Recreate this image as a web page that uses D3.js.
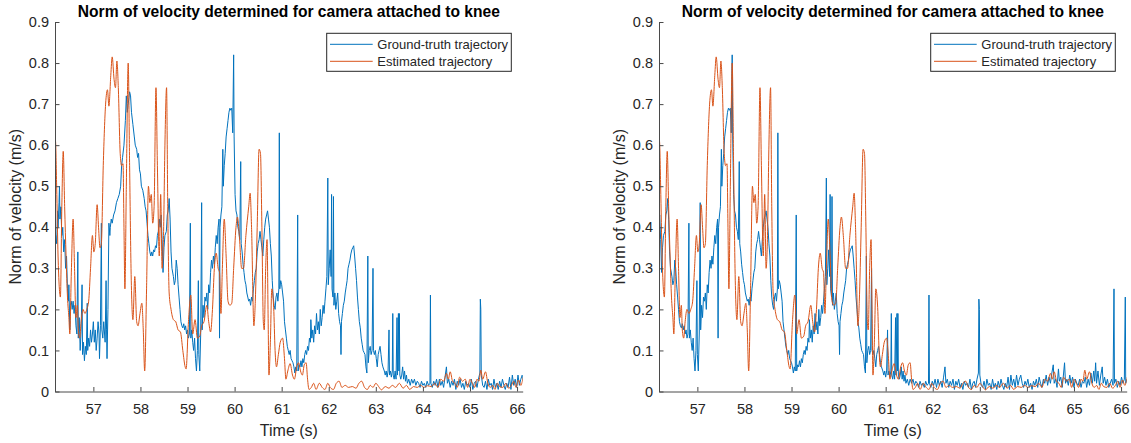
<!DOCTYPE html>
<html>
<head>
<meta charset="utf-8">
<script src="https://cdn.jsdelivr.net/npm/d3@7"></script>
<style>
  html, body { margin: 0; padding: 0; background: #ffffff; }
  svg { display: block; font-family: "Liberation Sans", Arial, Helvetica, sans-serif; }
</style>
</head>
<body>
<svg id="chart" width="1131" height="443"></svg>
<script>
// ---------------- DATA ----------------
const chartTitle = "Norm of velocity determined for camera attached to knee";
const xLabel = "Time (s)";
const yLabel = "Norm of velocity (m/s)";
const seriesNames = ["Ground-truth trajectory", "Estimated trajectory"];
const xTicks = [57, 58, 59, 60, 61, 62, 63, 64, 65, 66];
const yTicks = [0, 0.1, 0.2, 0.3, 0.4, 0.5, 0.6, 0.7, 0.8, 0.9];
const xDomain = [56.185, 66.12];
const yDomain = [0, 0.9];
// time offset of the ground-truth trajectory in each panel (left: raw, right: aligned)
const gtTimeShift = [0, 2.24];

// ground-truth trajectory [time (s), velocity (m/s)]
const groundTruth = [
[56.18,0.34],[56.20,0.38],[56.22,0.36],[56.24,0.44],[56.25,0.40],[56.27,0.46],[56.28,0.50],[56.29,0.42],
[56.31,0.45],[56.33,0.38],[56.35,0.40],[56.37,0.34],[56.39,0.37],[56.41,0.30],[56.43,0.33],[56.45,0.25],
[56.47,0.22],[56.48,0.26],[56.50,0.15],[56.51,0.21],[56.53,0.22],[56.55,0.20],[56.57,0.22],[56.59,0.19],
[56.61,0.21],[56.63,0.16],[56.65,0.14],[56.67,0.34],[56.68,0.13],[56.70,0.18],[56.72,0.10],[56.74,0.15],
[56.76,0.26],[56.77,0.09],[56.79,0.12],[56.81,0.075],[56.83,0.11],[56.85,0.09],[56.87,0.215],[56.88,0.10],
[56.90,0.13],[56.92,0.11],[56.94,0.15],[56.96,0.12],[56.98,0.14],[57.00,0.17],[57.02,0.12],[57.04,0.15],
[57.06,0.10],[57.08,0.13],[57.10,0.17],[57.12,0.14],[57.13,0.08],[57.15,0.16],[57.17,0.41],[57.18,0.15],
[57.20,0.13],[57.22,0.17],[57.25,0.12],[57.27,0.27],[57.28,0.15],[57.29,0.08],[57.31,0.20],[57.33,0.41],
[57.35,0.38],[57.36,0.40],[57.38,0.42],[57.40,0.41],[57.43,0.43],[57.46,0.44],[57.49,0.46],[57.52,0.47],
[57.55,0.48],[57.58,0.50],[57.60,0.55],[57.62,0.57],[57.65,0.60],[57.68,0.66],[57.70,0.72],[57.72,0.68],
[57.74,0.70],[57.77,0.73],[57.79,0.72],[57.81,0.68],[57.84,0.65],[57.87,0.62],[57.89,0.60],[57.92,0.59],
[57.94,0.57],[57.96,0.58],[57.98,0.54],[58.00,0.53],[58.02,0.50],[58.05,0.49],[58.08,0.47],[58.10,0.45],
[58.12,0.44],[58.14,0.41],[58.16,0.38],[58.18,0.36],[58.20,0.34],[58.22,0.33],[58.24,0.34],[58.26,0.33],
[58.28,0.345],[58.30,0.34],[58.32,0.355],[58.34,0.35],[58.36,0.38],[58.38,0.39],[58.40,0.42],[58.42,0.40],
[58.44,0.43],[58.46,0.37],[58.48,0.29],[58.50,0.35],[58.52,0.38],[58.55,0.39],[58.57,0.43],[58.59,0.44],
[58.61,0.47],[58.63,0.42],[58.65,0.34],[58.67,0.30],[58.70,0.28],[58.72,0.26],[58.74,0.27],[58.76,0.32],
[58.78,0.30],[58.80,0.26],[58.82,0.23],[58.84,0.20],[58.86,0.17],[58.88,0.16],[58.90,0.155],[58.92,0.165],
[58.94,0.15],[58.96,0.16],[58.98,0.14],[59.00,0.15],[59.02,0.13],[59.04,0.14],[59.06,0.41],[59.07,0.13],
[59.09,0.15],[59.11,0.12],[59.13,0.10],[59.15,0.13],[59.17,0.08],[59.19,0.05],[59.21,0.10],[59.23,0.27],
[59.24,0.09],[59.26,0.05],[59.28,0.14],[59.30,0.46],[59.31,0.15],[59.33,0.21],[59.35,0.18],[59.37,0.23],
[59.39,0.22],[59.41,0.24],[59.43,0.20],[59.45,0.26],[59.47,0.24],[59.49,0.29],[59.51,0.32],[59.53,0.30],
[59.55,0.33],[59.57,0.31],[59.59,0.35],[59.61,0.38],[59.63,0.36],[59.65,0.40],[59.67,0.42],[59.68,0.13],
[59.69,0.40],[59.71,0.43],[59.73,0.45],[59.75,0.59],[59.76,0.50],[59.78,0.55],[59.80,0.58],[59.82,0.62],
[59.84,0.64],[59.86,0.66],[59.88,0.68],[59.90,0.69],[59.92,0.685],[59.94,0.69],[59.96,0.63],[59.98,0.82],
[59.99,0.62],[60.01,0.48],[60.03,0.44],[60.05,0.43],[60.07,0.40],[60.09,0.39],[60.11,0.37],[60.13,0.56],
[60.14,0.36],[60.16,0.34],[60.18,0.31],[60.20,0.29],[60.22,0.27],[60.24,0.26],[60.26,0.24],[60.28,0.23],
[60.30,0.22],[60.32,0.225],[60.34,0.21],[60.36,0.23],[60.38,0.22],[60.40,0.25],[60.42,0.27],[60.44,0.29],
[60.46,0.30],[60.48,0.34],[60.50,0.36],[60.52,0.37],[60.54,0.39],[60.56,0.37],[60.58,0.35],[60.60,0.33],
[60.62,0.37],[60.64,0.40],[60.66,0.42],[60.68,0.43],[60.70,0.44],[60.72,0.42],[60.74,0.40],[60.76,0.36],
[60.78,0.33],[60.80,0.27],[60.82,0.23],[60.84,0.21],[60.86,0.20],[60.88,0.23],[60.90,0.24],[60.92,0.22],
[60.94,0.25],[60.95,0.63],[60.96,0.25],[60.98,0.27],[61.00,0.26],[61.02,0.24],[61.04,0.22],[61.06,0.17],
[61.08,0.15],[61.10,0.13],[61.12,0.11],[61.14,0.10],[61.16,0.09],[61.18,0.10],[61.20,0.08],[61.22,0.075],
[61.24,0.07],[61.26,0.06],[61.28,0.045],[61.30,0.06],[61.32,0.05],[61.34,0.43],[61.35,0.05],[61.37,0.065],
[61.39,0.06],[61.41,0.075],[61.43,0.06],[61.45,0.08],[61.47,0.07],[61.49,0.09],[61.51,0.10],[61.53,0.09],
[61.55,0.11],[61.57,0.10],[61.59,0.13],[61.61,0.12],[61.62,0.175],[61.64,0.13],[61.66,0.15],[61.68,0.12],
[61.70,0.16],[61.72,0.14],[61.74,0.19],[61.76,0.15],[61.78,0.17],[61.80,0.14],[61.82,0.20],[61.84,0.16],
[61.86,0.18],[61.88,0.21],[61.90,0.19],[61.92,0.22],[61.94,0.25],[61.96,0.28],[61.98,0.52],[61.99,0.26],
[62.01,0.30],[62.03,0.345],[62.05,0.28],[62.06,0.48],[62.07,0.25],[62.09,0.23],[62.10,0.475],[62.11,0.21],
[62.13,0.24],[62.15,0.20],[62.17,0.22],[62.19,0.24],[62.21,0.19],[62.23,0.17],[62.25,0.16],[62.26,0.09],
[62.27,0.17],[62.29,0.19],[62.31,0.21],[62.33,0.22],[62.35,0.24],[62.37,0.255],[62.39,0.27],[62.41,0.30],
[62.43,0.31],[62.45,0.32],[62.47,0.335],[62.49,0.345],[62.51,0.35],[62.53,0.355],[62.55,0.33],[62.57,0.30],
[62.59,0.27],[62.61,0.23],[62.63,0.20],[62.65,0.17],[62.67,0.155],[62.69,0.13],[62.71,0.115],[62.73,0.10],
[62.75,0.095],[62.77,0.09],[62.79,0.06],[62.81,0.045],[62.83,0.33],[62.84,0.07],[62.86,0.10],[62.88,0.11],
[62.90,0.09],[62.92,0.10],[62.94,0.30],[62.95,0.10],[62.97,0.09],[62.99,0.10],[63.01,0.08],[63.03,0.06],
[63.05,0.09],[63.07,0.10],[63.09,0.11],[63.11,0.09],[63.13,0.07],[63.15,0.06],[63.18,0.05],[63.20,0.04],
[63.22,0.05],[63.24,0.035],[63.26,0.05],[63.28,0.15],[63.29,0.04],[63.31,0.05],[63.33,0.035],[63.35,0.05],
[63.36,0.19],[63.37,0.04],[63.39,0.03],[63.41,0.05],[63.43,0.03],[63.45,0.18],[63.46,0.04],[63.48,0.19],
[63.49,0.05],[63.50,0.19],[63.51,0.04],[63.53,0.03],[63.55,0.04],[63.57,0.06],[63.59,0.03],[63.61,0.05],
[63.63,0.025],[63.65,0.04],[63.67,0.02],[63.70,0.03],[63.73,0.015],[63.76,0.03],[63.79,0.02],[63.82,0.03],
[63.85,0.015],[63.88,0.025],[63.91,0.02],[63.94,0.01],[63.97,0.025],[64.00,0.015],[64.03,0.02],[64.06,0.01],
[64.09,0.025],[64.12,0.015],[64.15,0.02],[64.16,0.235],[64.17,0.02],[64.20,0.01],[64.23,0.025],[64.26,0.015],
[64.29,0.03],[64.32,0.01],[64.35,0.03],[64.38,0.015],[64.41,0.025],[64.44,0.01],[64.47,0.035],[64.50,0.06],
[64.52,0.02],[64.55,0.03],[64.58,0.01],[64.61,0.025],[64.64,0.015],[64.67,0.03],[64.70,0.005],[64.73,0.025],
[64.76,0.015],[64.79,0.03],[64.82,0.01],[64.85,0.02],[64.88,0.005],[64.91,0.025],[64.94,0.015],[64.97,0.02],
[65.00,0.01],[65.03,0.03],[65.06,0.005],[65.09,0.02],[65.12,0.025],[65.15,0.01],[65.18,0.03],[65.21,0.045],
[65.22,0.225],[65.23,0.20],[65.24,0.04],[65.27,0.015],[65.30,0.01],[65.33,0.025],[65.36,0.005],[65.39,0.03],
[65.42,0.015],[65.45,0.02],[65.48,0.005],[65.51,0.03],[65.54,0.01],[65.57,0.02],[65.60,0.005],[65.63,0.025],
[65.66,0.01],[65.69,0.03],[65.72,0.015],[65.75,0.005],[65.78,0.02],[65.81,0.01],[65.84,0.035],[65.87,0.005],
[65.90,0.04],[65.93,0.015],[65.96,0.03],[65.99,0.01],[66.02,0.04],[66.05,0.015],[66.08,0.03],[66.11,0.04],
[66.14,0.02],[66.17,0.01],[66.20,0.025],[66.23,0.015],[66.26,0.03],[66.29,0.01],[66.32,0.02],[66.35,0.005],
[66.38,0.025],[66.41,0.015],[66.44,0.03],[66.47,0.01],[66.50,0.035],[66.53,0.02],[66.56,0.01],[66.59,0.03],
[66.62,0.02],[66.65,0.04],[66.68,0.015],[66.71,0.035],[66.74,0.02],[66.77,0.045],[66.80,0.065],[66.82,0.02],
[66.85,0.03],[66.88,0.01],[66.91,0.055],[66.93,0.025],[66.96,0.035],[66.99,0.01],[67.02,0.045],[67.04,0.07],
[67.06,0.02],[67.09,0.03],[67.12,0.015],[67.15,0.04],[67.18,0.02],[67.21,0.035],[67.24,0.01],[67.27,0.03],
[67.30,0.02],[67.33,0.015],[67.36,0.03],[67.39,0.01],[67.42,0.025],[67.45,0.02],[67.48,0.035],[67.51,0.01],
[67.54,0.03],[67.57,0.015],[67.60,0.045],[67.63,0.02],[67.66,0.05],[67.68,0.025],[67.70,0.07],[67.72,0.02],
[67.75,0.05],[67.78,0.015],[67.81,0.04],[67.84,0.06],[67.86,0.02],[67.89,0.035],[67.92,0.015],[67.95,0.03],
[67.98,0.01],[68.01,0.02],[68.04,0.03],[68.07,0.015],[68.09,0.25],[68.10,0.02],[68.13,0.03],[68.16,0.01],
[68.19,0.025],[68.22,0.015],[68.25,0.035],[68.28,0.02],[68.31,0.03],[68.33,0.23],[68.34,0.02],[68.37,0.03],
[68.40,0.01]
];

// estimated trajectory [time (s), velocity (m/s)]
const estimated = [
[56.18,0.575],[56.195,0.61],[56.22,0.50],[56.25,0.33],[56.30,0.23],[56.33,0.45],[56.36,0.585],[56.39,0.45],
[56.42,0.33],[56.45,0.23],[56.48,0.18],[56.50,0.14],[56.53,0.28],[56.57,0.42],[56.60,0.30],[56.63,0.18],
[56.66,0.21],[56.68,0.15],[56.71,0.13],[56.74,0.17],[56.78,0.20],[56.82,0.19],[56.86,0.20],[56.90,0.22],
[56.94,0.30],[56.98,0.38],[57.01,0.34],[57.04,0.36],[57.08,0.455],[57.11,0.40],[57.14,0.35],[57.17,0.36],
[57.21,0.55],[57.26,0.70],[57.30,0.735],[57.33,0.695],[57.37,0.77],[57.40,0.815],[57.44,0.76],[57.47,0.74],
[57.50,0.805],[57.53,0.74],[57.57,0.58],[57.60,0.55],[57.63,0.555],[57.65,0.40],[57.67,0.25],[57.70,0.50],
[57.74,0.80],[57.77,0.55],[57.80,0.30],[57.84,0.175],[57.88,0.28],[57.92,0.17],[57.95,0.16],[57.99,0.19],
[58.03,0.215],[58.06,0.15],[58.09,0.05],[58.13,0.25],[58.17,0.50],[58.20,0.46],[58.23,0.48],[58.26,0.41],
[58.29,0.45],[58.33,0.74],[58.36,0.55],[58.40,0.33],[58.43,0.48],[58.46,0.30],[58.49,0.38],[58.52,0.60],
[58.555,0.74],[58.58,0.45],[58.61,0.24],[58.65,0.20],[58.70,0.175],[58.75,0.17],[58.80,0.15],[58.85,0.145],
[58.90,0.10],[58.95,0.06],[58.97,0.055],[59.02,0.17],[59.07,0.235],[59.11,0.14],[59.16,0.175],[59.21,0.13],
[59.26,0.135],[59.30,0.16],[59.35,0.17],[59.41,0.21],[59.45,0.17],[59.49,0.145],[59.53,0.20],[59.57,0.30],
[59.61,0.337],[59.65,0.30],[59.68,0.29],[59.71,0.19],[59.74,0.30],[59.78,0.42],[59.82,0.33],[59.86,0.22],
[59.90,0.21],[59.94,0.215],[59.98,0.30],[60.03,0.40],[60.06,0.425],[60.10,0.38],[60.15,0.30],[60.19,0.30],
[60.24,0.38],[60.30,0.45],[60.33,0.483],[60.36,0.40],[60.41,0.16],[60.44,0.22],[60.48,0.40],[60.52,0.59],
[60.55,0.58],[60.58,0.40],[60.61,0.17],[60.63,0.15],[60.66,0.30],[60.69,0.37],[60.71,0.20],[60.73,0.04],
[60.76,0.12],[60.79,0.25],[60.83,0.205],[60.86,0.10],[60.89,0.06],[60.93,0.09],[60.97,0.12],[61.02,0.13],
[61.06,0.08],[61.09,0.03],[61.13,0.05],[61.18,0.068],[61.23,0.04],[61.27,0.03],[61.32,0.06],[61.36,0.07],
[61.40,0.05],[61.44,0.04],[61.48,0.065],[61.52,0.07],[61.55,0.03],[61.58,0.005],[61.63,0.01],[61.68,0.02],
[61.73,0.005],[61.80,0.02],[61.86,0.01],[61.92,0.005],[61.98,0.02],[62.03,0.01],[62.10,0.005],[62.16,0.02],
[62.22,0.025],[62.28,0.01],[62.35,0.015],[62.42,0.01],[62.50,0.012],[62.58,0.008],[62.64,0.02],[62.70,0.025],
[62.76,0.01],[62.82,0.005],[62.88,0.015],[62.94,0.01],[63.00,0.02],[63.06,0.012],[63.12,0.004],[63.20,0.012],
[63.28,0.008],[63.35,0.015],[63.42,0.01],[63.50,0.02],[63.58,0.008],[63.65,0.015],[63.72,0.005],[63.80,0.012],
[63.88,0.01],[63.95,0.015],[64.02,0.01],[64.10,0.014],[64.18,0.012],[64.25,0.02],[64.32,0.01],[64.38,0.03],
[64.44,0.025],[64.50,0.044],[64.54,0.03],[64.58,0.048],[64.63,0.025],[64.68,0.02],[64.73,0.01],[64.78,0.035],
[64.84,0.025],[64.90,0.03],[64.95,0.01],[65.00,0.03],[65.05,0.02],[65.10,0.01],[65.15,0.03],[65.19,0.025],
[65.23,0.052],[65.27,0.03],[65.33,0.048],[65.38,0.02],[65.43,0.01],[65.48,0.015],[65.53,0.005],[65.58,0.02],
[65.63,0.012],[65.70,0.01],[65.76,0.02],[65.82,0.008],[65.88,0.015],[65.93,0.025],[65.98,0.01],[66.03,0.028],
[66.08,0.015],[66.13,0.035]
];

const colors = ["#0072BD", "#D95319"];

// ---------------- DRAW ----------------
const svg = d3.select("#chart");
const plotW = 467.7, plotTop = 22, plotBottom = 391.5;
const panelLefts = [55, 659];
const textColor = "#262626";
const axisColor = "#4a4a4a";

panelLefts.forEach((left, i) => {
  const x = d3.scaleLinear().domain(xDomain).range([left, left + plotW]);
  const y = d3.scaleLinear().domain(yDomain).range([plotBottom, plotTop]);
  const g = svg.append("g");

  const clipId = "clip" + i;
  svg.append("defs").append("clipPath").attr("id", clipId)
    .append("rect").attr("x", left).attr("y", plotTop - 2)
    .attr("width", plotW).attr("height", plotBottom - plotTop + 2);

  const line = d3.line().x(d => x(d[0] - gtTimeShift[i])).y(d => y(d[1]));
  const smooth = d3.line().x(d => x(d[0])).y(d => y(d[1])).curve(d3.curveMonotoneX);

  const lines = g.append("g").attr("clip-path", `url(#${clipId})`);
  lines.append("path").datum(groundTruth)
    .attr("d", line).attr("fill", "none")
    .attr("stroke", colors[0]).attr("stroke-width", 1).attr("stroke-linejoin", "round");
  lines.append("path").datum(estimated)
    .attr("d", smooth).attr("fill", "none")
    .attr("stroke", colors[1]).attr("stroke-width", 1).attr("stroke-linejoin", "round");

  // axes
  const xAxis = d3.axisBottom(x).tickValues(xTicks).tickSizeInner(-4.5).tickSizeOuter(0)
    .tickPadding(12).tickFormat(d3.format("d"));
  const gx = g.append("g").attr("transform", `translate(0,${plotBottom})`).call(xAxis);
  const yAxis = d3.axisLeft(y).tickValues(yTicks).tickSizeInner(-4.5).tickSizeOuter(0)
    .tickPadding(6).tickFormat(d => d === 0 ? "0" : d3.format(".1f")(d));
  const gy = g.append("g").attr("transform", `translate(${left},0)`).call(yAxis);
  [gx, gy].forEach(a => {
    a.select(".domain").attr("stroke", axisColor).attr("stroke-width", 1);
    a.selectAll(".tick line").attr("stroke", axisColor).attr("stroke-width", 1);
    a.selectAll(".tick text").attr("fill", textColor)
      .style("font-size", "14.5px").style("font-family", '"Liberation Sans", Arial, sans-serif');
  });

  // title
  g.append("text").attr("x", left + plotW / 2).attr("y", 16.7)
    .attr("text-anchor", "middle").attr("font-weight", "bold")
    .style("font-size", "15.6px").attr("fill", "#000")
    .text(chartTitle);

  // x label
  g.append("text").attr("x", left + plotW / 2).attr("y", 436)
    .attr("text-anchor", "middle").style("font-size", "16px").attr("fill", textColor)
    .text(xLabel);

  // y label
  g.append("text")
    .attr("transform", `translate(${left - 40},${(plotTop + plotBottom) / 2}) rotate(-90)`)
    .attr("text-anchor", "middle").attr("dy", "0.35em")
    .style("font-size", "16px").attr("fill", textColor)
    .text(yLabel);

  // legend
  const lgX = left + 271.7, lgY = 33.3, lgW = 184.6, lgH = 38;
  const lg = g.append("g");
  lg.append("rect").attr("x", lgX).attr("y", lgY).attr("width", lgW).attr("height", lgH)
    .attr("fill", "#fff").attr("stroke", textColor).attr("stroke-width", 1);
  seriesNames.forEach((name, k) => {
    const ly = lgY + 11 + k * 17;
    lg.append("line").attr("x1", lgX + 3.3).attr("x2", lgX + 46).attr("y1", ly).attr("y2", ly)
      .attr("stroke", colors[k]).attr("stroke-width", 1);
    lg.append("text").attr("x", lgX + 50.6).attr("y", ly).attr("dy", "0.35em")
      .style("font-size", "13px").attr("fill", textColor).text(name);
  });
});
</script>
</body>
</html>
